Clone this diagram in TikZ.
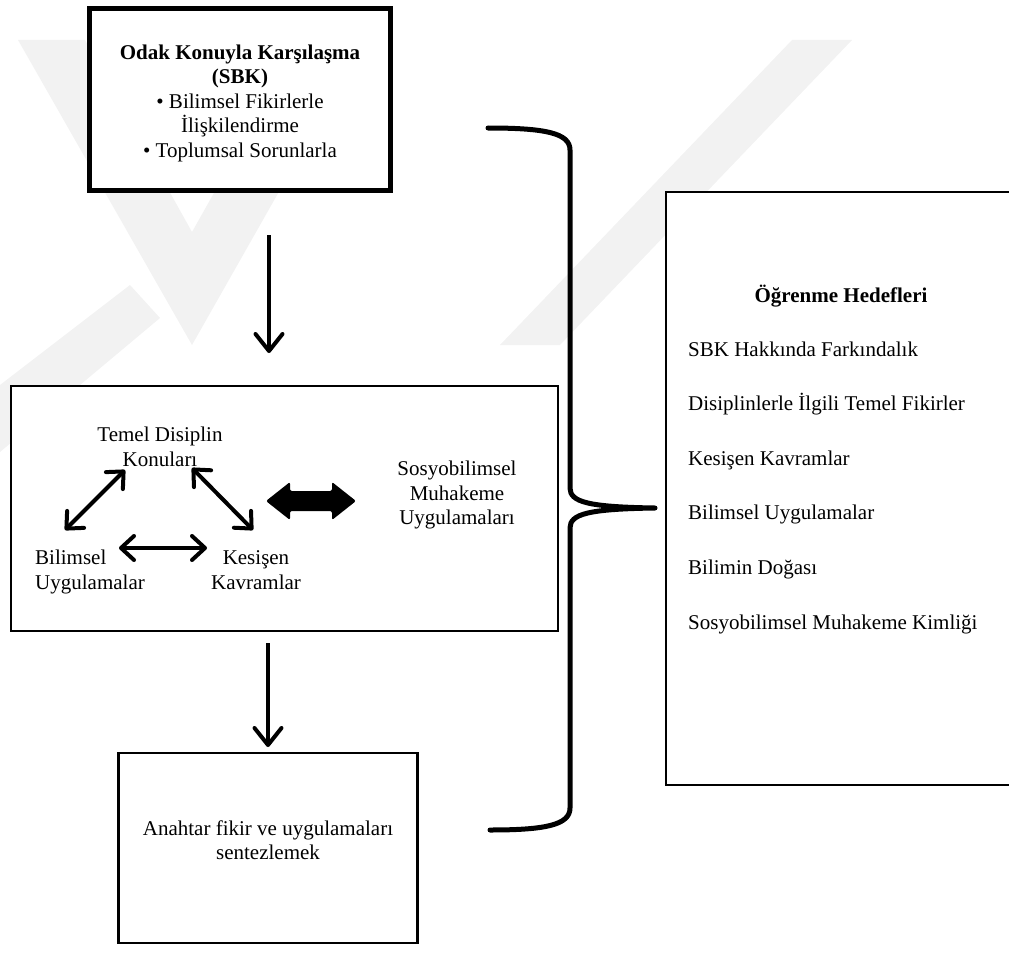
\documentclass[tikz,border=0pt]{standalone}
\usepackage{fontspec}
\setmainfont{Liberation Serif}
\usetikzlibrary{arrows.meta}
\begin{document}
\begin{tikzpicture}[x=1pt,y=-1pt,
  txt/.style={font=\fontsize{21}{24.5}\selectfont, inner sep=0pt, align=center},
  boldtxt/.style={font=\fontsize{21}{24.5}\selectfont\bfseries, inner sep=0pt, align=center},
  box/.style={draw, fill=white, line width=2.2pt, inner sep=0pt},
  thickbox/.style={draw, fill=white, line width=4.5pt, inner sep=0pt},
  flowarrow/.style={line width=4pt, -{Straight Barb[length=17pt,width=27pt,round]}},
  twoway/.style={line width=4pt, {Straight Barb[length=13pt,width=24pt,round]}-{Straight Barb[length=13pt,width=24pt,round]}},
  wm/.style={fill=black!5},
  bracestyle/.style={line width=5pt, line cap=round, line join=round}
]
\useasboundingbox (0,0) rectangle (1009,955);
% watermark
\begin{scope}
\clip (0,0) rectangle (1009,955);
\fill[wm] (18,40) -- (85,40) -- (192,232) -- (300,40) -- (365,40) -- (192,345) -- cycle;
\fill[wm] (0,385) -- (130,285) -- (160,318) -- (0,452) -- cycle;
\fill[wm] (792,40) -- (852,40) -- (560,345) -- (500,345) -- cycle;
\end{scope}
% boxes
\node[thickbox, minimum width=301pt, minimum height=182pt] (top) at (240,99.5) {};
\node[boldtxt] (toplbl) at (240,103) {Odak Konuyla Karşılaşma\\(SBK)\\\normalfont • Bilimsel Fikirlerle\\\normalfont İlişkilendirme\\\normalfont • Toplumsal Sorunlarla};
\node[box, minimum width=547pt, minimum height=245pt] (mid) at (284.5,508.5) {};
\node[box, minimum width=299pt, minimum height=190pt] (bot) at (268,848) {};
\node[txt] (botlbl) at (268,840) {Anahtar fikir ve uygulamaları\\sentezlemek};
\node[box, minimum width=352pt, minimum height=593pt] (goals) at (842,488.5) {};
% goals text
\node[boldtxt, anchor=base] (gtitle) at (841,302) {Öğrenme Hedefleri};
\node[txt, anchor=base west] (g1) at (688,356) {SBK Hakkında Farkındalık};
\node[txt, anchor=base west] (g2) at (688,410.6) {Disiplinlerle İlgili Temel Fikirler};
\node[txt, anchor=base west] (g3) at (688,465.2) {Kesişen Kavramlar};
\node[txt, anchor=base west] (g4) at (688,519.8) {Bilimsel Uygulamalar};
\node[txt, anchor=base west] (g5) at (688,574.4) {Bilimin Doğası};
\node[txt, anchor=base west] (g6) at (688,629) {Sosyobilimsel Muhakeme Kimliği};
% inner labels
\node[txt] (td) at (160,447) {Temel Disiplin\\Konuları};
\node[txt, align=left] (bu) at (90,572) {Bilimsel\\Uygulamalar};
\node[txt] (kk) at (256,570) {Kesişen\\Kavramlar};
\node[txt] (smu) at (457,495) {Sosyobilimsel\\Muhakeme\\Uygulamaları};
% arrow end points
\coordinate (tdL) at (125,470);
\coordinate (buT) at (65,530);
\coordinate (tdR) at (192,468);
\coordinate (kkT) at (253,530);
\coordinate (buR) at (119,548);
\coordinate (kkL) at (207,548);
\draw[twoway] (tdL) -- (buT);
\draw[twoway] (tdR) -- (kkT);
\draw[twoway] (buR) -- (kkL);
% block double arrow
\coordinate (baL) at (266,501);
\coordinate (baR) at (356,501);
\fill[rounded corners=2pt] (baL) -- ++(24,-19) -- ++(0,9) -- ++(42,0) -- ++(0,-9) -- (baR) -- ++(-24,19) -- ++(0,-9) -- ++(-42,0) -- ++(0,9) -- cycle;
% flow arrows
\coordinate (a1s) at (269,235);
\coordinate (a1e) at (269,353);
\coordinate (a2s) at (268,643);
\coordinate (a2e) at (268,747);
\draw[flowarrow] (a1s) -- (a1e);
\draw[flowarrow] (a2s) -- (a2e);
% brace
\coordinate (brTop) at (488,128);
\coordinate (brTip) at (655,508);
\coordinate (brBot) at (490,830);
\draw[bracestyle] (brTop) .. controls (545,128) and (570,133) .. (570,150)
  -- (570,488) .. controls (570,502) and (588,507) .. (brTip)
  .. controls (588,509) and (570,514) .. (570,528)
  -- (570,808) .. controls (570,825) and (545,830) .. (brBot);
\end{tikzpicture}
\end{document}
